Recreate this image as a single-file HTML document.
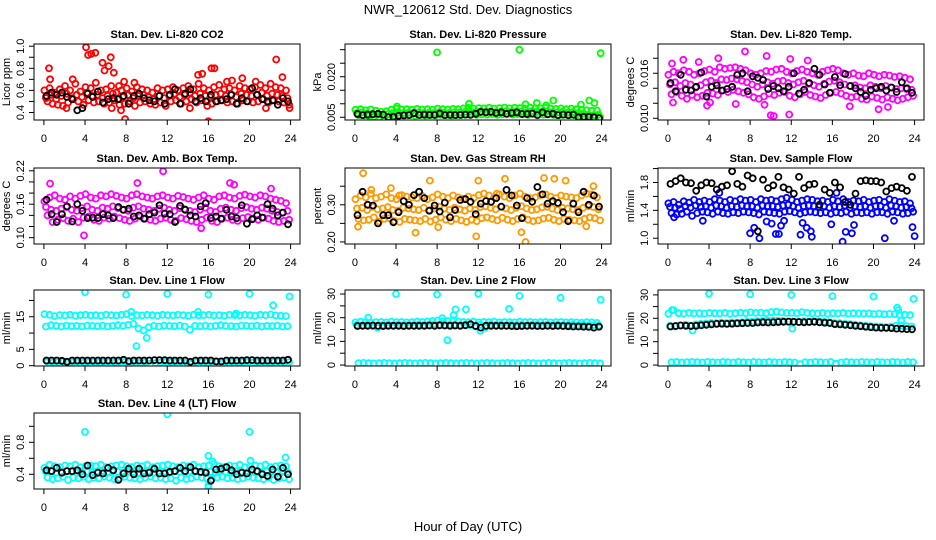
<!DOCTYPE html>
<html><head><meta charset="utf-8"><style>
html,body{margin:0;padding:0;background:#fff;}
svg{display:block;font-family:"Liberation Sans",Arial,sans-serif;}
</style></head><body>
<svg id="chart" width="936" height="540" viewBox="0 0 936 540" xmlns="http://www.w3.org/2000/svg">
<rect x="0" y="0" width="936" height="540" fill="#fff"/>
<text x="468" y="14" text-anchor="middle" font-size="13">NWR_120612 Std. Dev. Diagnostics</text>
<text x="468" y="531" text-anchor="middle" font-size="13">Hour of Day (UTC)</text>
</svg>
<script>
// ---- data ----
const xTicks = [0,4,8,12,16,20,24];

const p1Hi=[0.60,0.62,0.58,0.61,0.64,0.60,0.66,0.59,0.63,0.62,0.67,0.60,0.61,0.64,0.58,0.60,0.62,0.59,0.63,0.61,0.60,0.58,0.62,0.60,0.61,0.63,0.60,0.62,0.64,0.61,0.66,0.62,0.60,0.63,0.65,0.61,0.62,0.60,0.64,0.62,0.61,0.63,0.65,0.62,0.66,0.63,0.62,0.60];
const p1Mid=[0.54,0.56,0.52,0.55,0.57,0.53,0.56,0.54,0.58,0.55,0.56,0.53,0.55,0.57,0.52,0.54,0.56,0.53,0.55,0.56,0.54,0.52,0.55,0.53,0.55,0.57,0.54,0.56,0.58,0.55,0.57,0.55,0.54,0.56,0.57,0.55,0.56,0.54,0.57,0.56,0.55,0.56,0.58,0.55,0.57,0.56,0.55,0.53];
const p1Lo=[0.50,0.48,0.47,0.46,0.49,0.52,0.50,0.47,0.51,0.49,0.50,0.48,0.49,0.51,0.47,0.48,0.50,0.46,0.49,0.50,0.48,0.47,0.49,0.46,0.50,0.51,0.48,0.50,0.52,0.49,0.51,0.50,0.48,0.50,0.51,0.49,0.50,0.48,0.51,0.50,0.49,0.50,0.52,0.49,0.51,0.50,0.49,0.47];
const p1Blk=[0.55,0.58,0.56,0.58,0.54,0.52,0.42,0.44,0.57,0.54,0.59,0.49,0.52,0.53,0.52,0.55,0.48,0.55,0.57,0.53,0.51,0.50,0.55,0.48,0.56,0.61,0.48,0.57,0.61,0.50,0.53,0.50,0.56,0.50,0.51,0.52,0.56,0.48,0.53,0.50,0.62,0.56,0.52,0.50,0.51,0.47,0.53,0.50];
const p1OutX=[0.5,0.6,4.1,4.3,4.6,5.0,5.7,5.9,6.3,6.5,6.8,7.3,7.8,16.0,15.0,15.4,16.3,16.6,17.8,18.3,19.3,22.6,23.2,2.2,2.8,6.6,7.5,7.9,14.2,15.9,20.6,21.6,23.9,0.2,8.8];
const p1OutY=[0.80,0.70,0.99,0.92,0.93,0.94,0.85,0.78,0.82,0.90,0.76,0.64,0.68,0.32,0.74,0.75,0.80,0.80,0.68,0.69,0.71,0.88,0.72,0.44,0.70,0.44,0.42,0.34,0.44,0.46,0.68,0.44,0.44,0.53,0.67];

const p2Hi=[0.0078,0.0080,0.0076,0.0079,0.0074,0.0070,0.0072,0.0078,0.0082,0.0079,0.0080,0.0078,0.0081,0.0079,0.0080,0.0078,0.0082,0.0080,0.0079,0.0081,0.0080,0.0083,0.0085,0.0082,0.0084,0.0083,0.0085,0.0082,0.0084,0.0086,0.0083,0.0085,0.0084,0.0082,0.0086,0.0084,0.0083,0.0085,0.0082,0.0081,0.0083,0.0080,0.0082,0.0080,0.0078,0.0076,0.0074,0.0075];
const p2Mid=[0.0066,0.0068,0.0064,0.0063,0.0060,0.0058,0.0061,0.0066,0.0068,0.0066,0.0067,0.0065,0.0068,0.0066,0.0067,0.0066,0.0069,0.0067,0.0066,0.0068,0.0067,0.0070,0.0072,0.0069,0.0071,0.0070,0.0072,0.0069,0.0071,0.0073,0.0070,0.0072,0.0071,0.0069,0.0073,0.0071,0.0070,0.0072,0.0069,0.0068,0.0070,0.0067,0.0069,0.0066,0.0064,0.0060,0.0058,0.0060];
const p2Lo=[0.0058,0.0057,0.0055,0.0052,0.0050,0.0049,0.0052,0.0056,0.0058,0.0057,0.0058,0.0056,0.0058,0.0057,0.0058,0.0057,0.0059,0.0058,0.0057,0.0058,0.0058,0.0060,0.0062,0.0059,0.0061,0.0060,0.0062,0.0059,0.0061,0.0062,0.0060,0.0062,0.0061,0.0059,0.0062,0.0061,0.0060,0.0062,0.0059,0.0058,0.0060,0.0057,0.0058,0.0055,0.0052,0.0050,0.0049,0.0050];
const p2Blk=[0.0062,0.0058,0.0060,0.0061,0.0063,0.0060,0.0050,0.0052,0.0055,0.0057,0.0058,0.0065,0.0059,0.0060,0.0059,0.0059,0.0064,0.0058,0.0059,0.0058,0.0059,0.0060,0.0059,0.0063,0.0070,0.0068,0.0070,0.0066,0.0068,0.0063,0.0066,0.0068,0.0062,0.0062,0.0064,0.0058,0.0068,0.0061,0.0063,0.0058,0.0060,0.0058,0.0060,0.0050,0.0052,0.0052,0.0050,0.0047];
const p2OutX=[8.0,16.0,23.9,11.1,16.6,17.7,19.3,22.0,22.8,23.3,18.6,4.1];
const p2OutY=[0.0290,0.0300,0.0287,0.0100,0.0098,0.0103,0.0112,0.0097,0.0112,0.0103,0.0094,0.0090];

const p3Hi=[0.0158,0.0162,0.0160,0.0164,0.0162,0.0158,0.0160,0.0163,0.0165,0.0162,0.0168,0.0166,0.0167,0.0168,0.0166,0.0164,0.0160,0.0158,0.0160,0.0163,0.0162,0.0165,0.0166,0.0162,0.0160,0.0163,0.0165,0.0162,0.0160,0.0158,0.0162,0.0164,0.0166,0.0164,0.0160,0.0158,0.0160,0.0157,0.0156,0.0160,0.0158,0.0156,0.0158,0.0157,0.0155,0.0156,0.0154,0.0152];
const p3Mid=[0.0145,0.0148,0.0143,0.0147,0.0145,0.0141,0.0144,0.0148,0.0150,0.0147,0.0152,0.0151,0.0153,0.0152,0.0150,0.0148,0.0145,0.0142,0.0145,0.0148,0.0146,0.0149,0.0150,0.0147,0.0145,0.0148,0.0150,0.0146,0.0144,0.0142,0.0146,0.0149,0.0150,0.0148,0.0145,0.0143,0.0144,0.0141,0.0140,0.0144,0.0142,0.0140,0.0143,0.0141,0.0139,0.0140,0.0139,0.0138];
const p3Lo=[0.0132,0.0135,0.0130,0.0126,0.0131,0.0128,0.0130,0.0134,0.0133,0.0131,0.0137,0.0135,0.0138,0.0136,0.0134,0.0132,0.0128,0.0126,0.0129,0.0133,0.0131,0.0134,0.0135,0.0130,0.0128,0.0132,0.0135,0.0131,0.0129,0.0127,0.0131,0.0134,0.0135,0.0133,0.0130,0.0128,0.0129,0.0126,0.0125,0.0129,0.0127,0.0125,0.0128,0.0126,0.0124,0.0126,0.0128,0.0130];
const p3Blk=[0.0147,0.0136,0.0158,0.0138,0.0137,0.0142,0.0161,0.0129,0.0142,0.0144,0.0137,0.0139,0.0142,0.0158,0.0160,0.0136,0.0156,0.0154,0.0151,0.0139,0.0143,0.0140,0.0136,0.0142,0.0160,0.0133,0.0138,0.0147,0.0166,0.0158,0.0145,0.0134,0.0155,0.0144,0.0159,0.0143,0.0140,0.0135,0.0130,0.0138,0.0140,0.0142,0.0137,0.0141,0.0135,0.0148,0.0140,0.0134];
const p3OutX=[0.4,1.5,3.0,4.9,7.5,9.6,11.9,13.6,10.0,10.3,11.8,20.5,0.5,3.8,4.1,6.6,9.4,17.7,21.4];
const p3OutY=[0.0173,0.0178,0.0175,0.0180,0.0189,0.0183,0.0179,0.0177,0.0104,0.0103,0.0105,0.0112,0.0121,0.0117,0.0121,0.0119,0.0118,0.0116,0.0115];

const p4Hi=[0.165,0.172,0.176,0.170,0.168,0.174,0.170,0.175,0.178,0.172,0.170,0.176,0.174,0.178,0.175,0.172,0.170,0.176,0.178,0.174,0.172,0.170,0.174,0.176,0.172,0.170,0.175,0.173,0.170,0.168,0.172,0.176,0.170,0.168,0.174,0.176,0.172,0.170,0.175,0.177,0.174,0.172,0.176,0.174,0.170,0.168,0.166,0.162];
const p4Mid=[0.155,0.150,0.148,0.152,0.155,0.150,0.148,0.153,0.156,0.150,0.148,0.154,0.152,0.156,0.153,0.150,0.148,0.154,0.156,0.152,0.150,0.148,0.152,0.154,0.150,0.148,0.153,0.151,0.148,0.146,0.150,0.154,0.148,0.146,0.152,0.154,0.150,0.148,0.153,0.155,0.152,0.150,0.154,0.152,0.148,0.146,0.145,0.148];
const p4Lo=[0.140,0.128,0.132,0.135,0.130,0.134,0.128,0.136,0.138,0.132,0.130,0.136,0.134,0.138,0.135,0.132,0.130,0.134,0.138,0.134,0.132,0.130,0.134,0.136,0.132,0.130,0.135,0.133,0.130,0.128,0.132,0.136,0.130,0.128,0.134,0.136,0.132,0.130,0.135,0.137,0.134,0.132,0.136,0.134,0.130,0.128,0.130,0.132];
const p4Blk=[0.168,0.142,0.128,0.142,0.156,0.129,0.160,0.148,0.135,0.136,0.135,0.142,0.140,0.135,0.155,0.150,0.152,0.138,0.140,0.134,0.142,0.145,0.158,0.143,0.142,0.128,0.157,0.150,0.140,0.138,0.156,0.162,0.135,0.138,0.134,0.150,0.138,0.135,0.158,0.125,0.133,0.140,0.136,0.160,0.152,0.140,0.145,0.124];
const p4OutX=[0.6,3.9,11.6,15.3,18.1,18.5,9.1,22.1];
const p4OutY=[0.197,0.104,0.219,0.117,0.198,0.195,0.198,0.188];

const p5Hi=[0.315,0.325,0.320,0.330,0.318,0.322,0.328,0.318,0.315,0.326,0.322,0.320,0.318,0.324,0.315,0.320,0.328,0.322,0.318,0.325,0.320,0.316,0.322,0.318,0.326,0.330,0.325,0.320,0.328,0.322,0.318,0.325,0.330,0.322,0.318,0.320,0.326,0.328,0.322,0.318,0.325,0.322,0.320,0.318,0.325,0.330,0.328,0.320];
const p5Mid=[0.290,0.292,0.286,0.295,0.288,0.290,0.294,0.286,0.284,0.292,0.290,0.288,0.286,0.292,0.285,0.290,0.295,0.290,0.286,0.292,0.288,0.284,0.290,0.286,0.294,0.296,0.292,0.288,0.295,0.290,0.286,0.292,0.296,0.290,0.286,0.288,0.293,0.295,0.290,0.286,0.292,0.290,0.288,0.286,0.292,0.296,0.294,0.288];
const p5Lo=[0.262,0.258,0.260,0.266,0.255,0.262,0.264,0.256,0.254,0.262,0.260,0.258,0.256,0.262,0.255,0.260,0.266,0.260,0.256,0.262,0.258,0.254,0.260,0.256,0.264,0.266,0.262,0.258,0.265,0.260,0.256,0.262,0.266,0.260,0.256,0.258,0.263,0.265,0.260,0.256,0.262,0.260,0.258,0.256,0.262,0.266,0.264,0.258];
const p5Blk=[0.272,0.335,0.300,0.298,0.250,0.272,0.272,0.253,0.280,0.310,0.300,0.326,0.335,0.318,0.284,0.298,0.282,0.306,0.266,0.286,0.313,0.315,0.308,0.275,0.303,0.310,0.308,0.318,0.295,0.340,0.325,0.298,0.264,0.318,0.308,0.348,0.328,0.303,0.310,0.305,0.280,0.256,0.303,0.280,0.335,0.300,0.325,0.295];
const p5OutX=[0.8,0.3,1.6,3.5,4.3,7.3,8.1,11.8,12.0,13.8,14.6,16.2,16.6,18.4,19.4,20.5,22.5,23.2,5.9];
const p5OutY=[0.385,0.241,0.340,0.345,0.325,0.365,0.240,0.215,0.365,0.330,0.370,0.226,0.200,0.372,0.370,0.365,0.242,0.350,0.225];

const p6Hi=[1.50,1.52,1.48,1.53,1.51,1.55,1.52,1.54,1.52,1.56,1.54,1.52,1.55,1.53,1.56,1.54,1.55,1.52,1.56,1.54,1.55,1.53,1.56,1.58,1.55,1.52,1.54,1.56,1.55,1.53,1.54,1.52,1.55,1.53,1.56,1.52,1.54,1.53,1.55,1.52,1.54,1.55,1.52,1.56,1.54,1.52,1.53,1.50];
const p6Mid=[1.45,1.44,1.42,1.46,1.44,1.47,1.45,1.46,1.44,1.47,1.46,1.44,1.46,1.45,1.47,1.46,1.46,1.44,1.47,1.46,1.46,1.45,1.47,1.48,1.46,1.44,1.46,1.47,1.46,1.45,1.46,1.44,1.46,1.45,1.47,1.44,1.46,1.45,1.46,1.44,1.46,1.46,1.44,1.47,1.46,1.44,1.45,1.43];
const p6Lo=[1.36,1.34,1.35,1.38,1.32,1.36,1.38,1.37,1.35,1.38,1.36,1.35,1.37,1.36,1.38,1.37,1.36,1.34,1.38,1.37,1.36,1.35,1.38,1.39,1.37,1.35,1.37,1.38,1.37,1.36,1.37,1.35,1.37,1.36,1.38,1.35,1.37,1.36,1.37,1.35,1.37,1.37,1.35,1.38,1.37,1.35,1.36,1.38];
const p6Blk=[1.78,1.82,1.86,1.80,1.79,1.68,1.76,1.80,1.79,1.70,1.74,1.76,1.96,1.78,1.74,1.90,1.86,1.10,1.84,1.72,1.76,1.88,1.73,1.70,1.64,1.88,1.72,1.77,1.78,1.48,1.70,1.65,1.80,1.73,1.52,1.48,1.64,1.82,1.83,1.82,1.82,1.80,1.67,1.72,1.74,1.72,1.68,1.88];
const p6OutX=[5.0,8.0,8.4,8.9,9.6,10.1,10.5,11.0,11.3,12.9,13.1,13.5,13.9,14.0,15.9,16.4,17.0,17.3,17.9,18.1,21.1,22.0,23.8,24.0,10.8,3.4,0.6];
const p6OutY=[1.65,1.07,1.15,1.00,1.24,1.21,1.06,1.18,1.25,1.05,1.22,1.15,1.10,1.02,1.20,1.65,0.95,1.09,1.07,1.19,1.00,1.25,1.16,1.03,1.06,1.25,1.30];

const p7Hi=[15.8,15.6,15.2,15.5,15.4,15.6,15.3,15.5,15.6,15.4,15.5,15.3,15.6,15.5,15.4,15.6,15.8,15.2,15.5,15.4,15.6,15.5,15.3,15.6,15.5,15.4,15.6,15.5,15.3,15.6,15.4,15.5,15.6,15.4,15.5,15.3,15.6,15.5,15.4,15.6,15.5,15.3,15.6,15.5,15.7,15.4,15.3,15.2];
const p7Mid=[12.0,12.4,12.2,12.0,12.3,12.1,12.2,12.0,12.3,12.2,12.1,12.3,12.0,12.2,12.4,12.2,12.5,12.8,11.4,10.8,11.8,12.2,12.0,12.3,12.2,12.1,12.3,12.0,11.0,12.2,12.1,12.3,12.0,12.2,12.4,12.2,12.1,12.0,12.3,12.2,12.1,12.3,12.0,12.2,12.1,12.3,12.0,12.1];
const p7Lo=[1.2,1.0,1.1,1.2,1.0,1.1,1.2,1.0,1.1,1.2,1.0,1.1,1.2,1.0,1.1,1.2,1.0,1.1,0.9,1.0,0.6,0.8,1.0,1.2,1.0,1.1,1.2,1.0,0.6,1.1,1.2,1.0,1.1,1.2,1.0,1.1,1.2,1.0,1.1,1.2,1.0,1.1,1.2,1.0,1.1,1.2,1.0,1.1];
const p7Blk=[1.6,1.6,1.6,1.5,1.2,1.6,1.6,1.6,1.6,1.6,1.6,1.6,1.6,1.6,1.6,1.8,1.4,1.6,1.6,1.6,1.6,1.7,1.7,1.7,1.6,1.6,1.6,1.6,1.2,1.6,1.6,1.6,1.6,1.3,1.3,1.6,1.6,1.6,1.6,1.7,1.7,1.6,1.6,1.6,1.6,1.6,1.6,1.8];
const p7OutX=[4.0,8.0,12.0,16.0,20.0,23.9,22.3,9.0,10.0,8.5,15.0,18.7];
const p7OutY=[22.5,21.8,22.0,21.8,22.0,21.2,18.5,6.0,8.5,16.5,16.5,16.0];

const p8Hi=[18.0,18.3,18.2,17.9,18.1,18.2,18.0,18.3,18.1,18.2,18.0,18.1,18.3,18.2,18.4,18.6,18.8,18.5,18.6,19.0,18.4,18.2,18.1,18.3,18.0,18.2,18.1,18.3,18.0,18.2,18.1,18.0,18.3,18.1,18.2,18.0,18.1,18.2,18.0,18.1,18.2,18.0,18.1,18.0,17.9,18.1,18.0,17.8];
const p8Mid=[17.0,16.8,17.1,16.5,15.8,16.9,17.0,16.8,17.1,16.9,17.0,16.8,17.1,16.9,17.0,17.2,17.0,16.9,17.1,17.0,16.8,17.0,16.9,16.4,17.0,15.8,17.1,16.9,17.0,16.8,17.1,16.9,17.0,16.8,16.9,17.0,16.8,17.1,16.9,17.0,16.8,16.9,17.0,16.8,16.9,16.7,16.8,16.6];
const p8Lo=[0.8,0.9,0.8,0.7,0.8,0.9,0.8,0.7,0.8,0.9,0.8,0.7,0.8,0.9,0.8,0.7,0.8,0.9,0.8,0.7,0.8,0.9,0.8,0.7,0.8,0.9,0.8,0.7,0.8,0.9,0.8,0.7,0.8,0.9,0.8,0.7,0.8,0.9,0.8,0.7,0.8,0.9,0.8,0.7,0.8,0.9,0.8,0.7];
const p8Blk=[16.5,16.6,16.6,16.7,16.6,16.5,16.6,16.6,16.6,16.5,16.6,16.6,16.6,16.6,16.7,16.6,16.8,16.7,16.6,16.7,16.6,16.8,17.2,16.5,15.8,16.6,16.6,16.6,16.6,16.6,16.5,16.4,16.5,16.6,16.6,16.5,16.5,16.6,16.5,16.6,16.5,16.4,16.3,16.3,16.2,16.1,15.8,16.2];
const p8OutX=[4.0,8.0,12.0,16.0,20.0,23.9,9.0,9.6,9.8,10.8,15.0,1.3,8.5,12.2];
const p8OutY=[30.0,29.8,30.1,29.2,28.4,27.6,10.5,21.0,23.5,23.5,23.7,20.0,19.8,14.5];

const p9Hi=[22.0,23.5,22.2,22.0,22.3,22.1,22.2,22.0,22.3,22.2,22.1,22.3,22.0,22.2,22.4,22.2,22.5,22.3,22.4,22.2,22.6,22.8,22.5,22.3,22.4,22.2,22.6,22.3,22.2,22.1,22.3,22.0,22.2,22.1,22.3,22.0,22.2,22.1,22.0,22.1,21.8,22.0,21.7,21.9,21.8,21.6,21.5,21.4];
const p9Mid=[16.8,16.5,17.0,17.2,16.8,17.4,17.6,17.8,18.0,17.9,18.1,18.0,18.2,18.1,18.3,18.5,18.6,18.8,18.9,19.0,19.1,19.0,18.9,18.5,18.6,18.4,18.8,18.6,18.8,18.6,18.5,18.3,18.0,17.9,17.6,17.5,17.3,17.0,16.8,16.6,16.5,16.4,16.2,16.4,16.8,16.9,16.7,16.5];
const p9Lo=[1.2,1.3,1.1,1.2,1.3,1.2,1.1,1.3,1.2,1.1,1.3,1.2,1.1,1.3,1.2,1.1,1.3,1.2,1.1,1.3,1.2,1.1,1.3,1.2,1.1,0.4,1.2,1.1,1.3,1.2,1.1,1.3,0.6,1.1,1.3,1.2,1.1,1.3,1.2,1.1,1.3,1.2,1.1,1.3,1.2,1.1,1.3,1.2];
const p9Blk=[16.5,16.7,16.9,16.8,16.7,16.8,17.0,17.2,17.4,17.6,17.7,17.6,17.7,17.8,17.9,18.0,18.0,18.2,18.3,18.2,18.3,18.4,18.5,18.6,18.5,18.4,18.3,18.4,18.5,18.3,18.1,18.0,17.5,17.4,17.2,17.0,16.8,16.6,16.4,16.2,16.0,15.9,15.9,15.8,15.6,15.5,15.4,15.3];
const p9OutX=[4.0,8.0,12.0,16.0,20.0,23.9,22.3,22.4,22.7,12.1,2.4,0.4];
const p9OutY=[30.5,30.3,30.0,29.5,29.3,28.3,24.5,23.5,19.0,15.6,14.8,23.5];

const p10Hi=[0.48,0.52,0.50,0.49,0.51,0.50,0.52,0.49,0.50,0.51,0.50,0.52,0.49,0.50,0.51,0.52,0.50,0.49,0.51,0.50,0.52,0.49,0.50,0.51,0.52,0.50,0.49,0.51,0.50,0.52,0.49,0.50,0.51,0.53,0.50,0.49,0.51,0.50,0.52,0.49,0.50,0.51,0.50,0.52,0.49,0.50,0.51,0.50];
const p10Mid=[0.43,0.44,0.42,0.43,0.44,0.43,0.42,0.44,0.43,0.42,0.44,0.43,0.42,0.44,0.43,0.42,0.44,0.43,0.42,0.44,0.43,0.42,0.44,0.43,0.42,0.44,0.43,0.42,0.44,0.43,0.42,0.44,0.43,0.42,0.44,0.43,0.42,0.44,0.43,0.42,0.44,0.43,0.42,0.44,0.43,0.42,0.44,0.43];
const p10Lo=[0.36,0.34,0.35,0.37,0.33,0.36,0.35,0.37,0.34,0.36,0.35,0.37,0.36,0.34,0.35,0.37,0.36,0.35,0.34,0.36,0.37,0.35,0.36,0.34,0.35,0.32,0.36,0.34,0.35,0.37,0.36,0.35,0.34,0.36,0.37,0.35,0.36,0.34,0.35,0.37,0.36,0.35,0.34,0.36,0.33,0.35,0.36,0.34];
const p10Blk=[0.45,0.44,0.48,0.42,0.44,0.44,0.45,0.40,0.51,0.39,0.42,0.41,0.48,0.45,0.33,0.41,0.47,0.40,0.47,0.41,0.42,0.47,0.41,0.41,0.43,0.44,0.48,0.44,0.49,0.44,0.43,0.42,0.32,0.46,0.47,0.49,0.45,0.40,0.42,0.41,0.46,0.44,0.40,0.38,0.46,0.37,0.48,0.40];
const p10OutX=[4.0,12.0,20.0,23.5,16.0,16.0,20.1,16.4,16.0];
const p10OutY=[0.93,1.15,0.93,0.61,0.63,0.24,0.57,0.56,0.26];

// ---- layout ----
const colLeft=[34,345,658], rowTop=[44,168,290,413], boxW=266, boxH=76;
const panels=[
 {name:'co2',title:'Stan. Dev. Li-820 CO2',ylab:'Licor ppm',c:0,r:0,ymin:0.332,ymax:1.02,ticks:[0.4,0.5,0.6,0.7,0.8,0.9,1.0],labels:[0.4,0.6,0.8,1.0],dec:1,col:'#ff0000',hi:p1Hi,mid:p1Mid,lo:p1Lo,blk:p1Blk,ox:p1OutX,oy:p1OutY},
 {name:'pressure',title:'Stan. Dev. Li-820 Pressure',ylab:'kPa',c:1,r:0,ymin:0.004,ymax:0.0321,ticks:[0.005,0.010,0.015,0.020,0.025,0.030],labels:[0.005,0.020],dec:3,col:'#00ff00',hi:p2Hi,mid:p2Mid,lo:p2Lo,blk:p2Blk,ox:p2OutX,oy:p2OutY},
 {name:'li820-temp',title:'Stan. Dev. Li-820 Temp.',ylab:'degrees C',c:2,r:0,ymin:0.00977,ymax:0.0199,ticks:[0.010,0.012,0.014,0.016,0.018],labels:[0.010,0.016],dec:3,col:'#ff00ff',hi:p3Hi,mid:p3Mid,lo:p3Lo,blk:p3Blk,ox:p3OutX,oy:p3OutY},
 {name:'amb-box-temp',title:'Stan. Dev. Amb. Box Temp.',ylab:'degrees C',c:0,r:1,ymin:0.0886,ymax:0.225,ticks:[0.10,0.12,0.14,0.16,0.18,0.20,0.22],labels:[0.10,0.16,0.22],dec:2,col:'#ff00ff',hi:p4Hi,mid:p4Mid,lo:p4Lo,blk:p4Blk,ox:p4OutX,oy:p4OutY},
 {name:'gas-stream-rh',title:'Stan. Dev. Gas Stream RH',ylab:'percent',c:1,r:1,ymin:0.1945,ymax:0.399,ticks:[0.20,0.25,0.30,0.35],labels:[0.20,0.30],dec:2,col:'#ff9900',hi:p5Hi,mid:p5Mid,lo:p5Lo,blk:p5Blk,ox:p5OutX,oy:p5OutY},
 {name:'sample-flow',title:'Stan. Dev. Sample Flow',ylab:'ml/min',c:2,r:1,ymin:0.917,ymax:2.008,ticks:[1.0,1.2,1.4,1.6,1.8,2.0],labels:[1.0,1.4,1.8],dec:1,col:'#0000ff',hi:p6Hi,mid:p6Mid,lo:p6Lo,blk:p6Blk,ox:p6OutX,oy:p6OutY},
 {name:'line1-flow',title:'Stan. Dev. Line 1 Flow',ylab:'ml/min',c:0,r:2,ymin:-0.1,ymax:23.2,ticks:[0,5,10,15,20],labels:[0,5,15],dec:0,col:'#00ffff',hi:p7Hi,mid:p7Mid,lo:p7Lo,blk:p7Blk,ox:p7OutX,oy:p7OutY},
 {name:'line2-flow',title:'Stan. Dev. Line 2 Flow',ylab:'ml/min',c:1,r:2,ymin:-0.4,ymax:31.7,ticks:[0,5,10,15,20,25,30],labels:[0,10,20,30],dec:0,col:'#00ffff',hi:p8Hi,mid:p8Mid,lo:p8Lo,blk:p8Blk,ox:p8OutX,oy:p8OutY},
 {name:'line3-flow',title:'Stan. Dev. Line 3 Flow',ylab:'ml/min',c:2,r:2,ymin:-0.4,ymax:32.1,ticks:[0,5,10,15,20,25,30],labels:[0,10,20,30],dec:0,col:'#00ffff',hi:p9Hi,mid:p9Mid,lo:p9Lo,blk:p9Blk,ox:p9OutX,oy:p9OutY},
 {name:'line4-flow',title:'Stan. Dev. Line 4 (LT) Flow',ylab:'ml/min',c:0,r:3,ymin:0.216,ymax:1.166,ticks:[0.4,0.6,0.8,1.0],labels:[0.4,0.8],dec:1,col:'#00ffff',hi:p10Hi,mid:p10Mid,lo:p10Lo,blk:p10Blk,ox:p10OutX,oy:p10OutY}
];

const NS='http://www.w3.org/2000/svg';
const svg=document.getElementById('chart');
function mk(tag,attrs,parent){const e=document.createElementNS(NS,tag);for(const k in attrs)e.setAttribute(k,attrs[k]);parent.appendChild(e);return e;}

panels.forEach(p=>{
  const L=colLeft[p.c], T=rowTop[p.r], B=T+boxH;
  const xs=h=>L+9.9+h*(246.7/24);
  const ys=v=>B-(v-p.ymin)/(p.ymax-p.ymin)*boxH;
  const g=mk('g',{},svg);
  
  
  const clip=mk('clipPath',{id:'clip-'+p.name},g);
  mk('rect',{x:L,y:T,width:boxW,height:boxH},clip);
  const pts=mk('g',{'clip-path':'url(#clip-'+p.name+')'},g);
  
  
  const dot=(h,v,color,nm)=>{
    const c=mk('circle',{cx:xs(h).toFixed(1),cy:ys(v).toFixed(1),r:3,fill:'none',stroke:color,'stroke-width':1.8},pts);
    
    
  };
  [[p.hi,0.05],[p.mid,0.2],[p.lo,0.35]].forEach(([arr,off])=>{
    arr.forEach((v,i)=>dot(i*0.5+off,v,p.col,p.name+'-point'));
  });
  p.ox.forEach((h,i)=>dot(h,p.oy[i],p.col,p.name+'-outlier'));
  p.blk.forEach((v,i)=>dot(i*0.5+0.25,v,'#000',p.name+'-mean-point'));
  const box=mk('rect',{x:L,y:T,width:boxW,height:boxH,fill:'none',stroke:'#000','stroke-width':1},g);
  
  
  const t=mk('text',{x:L+boxW/2,y:T-6,'text-anchor':'middle','font-size':11,'font-weight':'bold'},g);
  t.textContent=p.title;
  
  
  const xa=mk('g',{},g);
  
  
  mk('line',{x1:xs(xTicks[0]),x2:xs(xTicks[xTicks.length-1]),y1:B,y2:B,stroke:'#000'},xa);
  xTicks.forEach(h=>{
    mk('line',{x1:xs(h),x2:xs(h),y1:B,y2:B+5,stroke:'#000'},xa);
    const lt=mk('text',{x:xs(h),y:B+22,'text-anchor':'middle','font-size':11},xa);
    lt.textContent=String(h);
  });
  const ya=mk('g',{},g);
  
  
  mk('line',{x1:L,x2:L,y1:ys(p.ticks[0]),y2:ys(p.ticks[p.ticks.length-1]),stroke:'#000'},ya);
  p.ticks.forEach(v=>mk('line',{x1:L-5,x2:L,y1:ys(v),y2:ys(v),stroke:'#000'},ya));
  p.labels.forEach(v=>{
    const yy=ys(v), xx=L-10;
    const lt=mk('text',{x:xx,y:yy,'text-anchor':'middle','font-size':11,transform:`rotate(-90 ${xx} ${yy})`},ya);
    lt.textContent=v.toFixed(p.dec);
  });
  const yl=mk('text',{x:L-24,y:T+boxH/2,'text-anchor':'middle','font-size':11,transform:`rotate(-90 ${L-24} ${T+boxH/2})`},g);
  yl.textContent=p.ylab;
  
  
});
</script>
</body></html>
